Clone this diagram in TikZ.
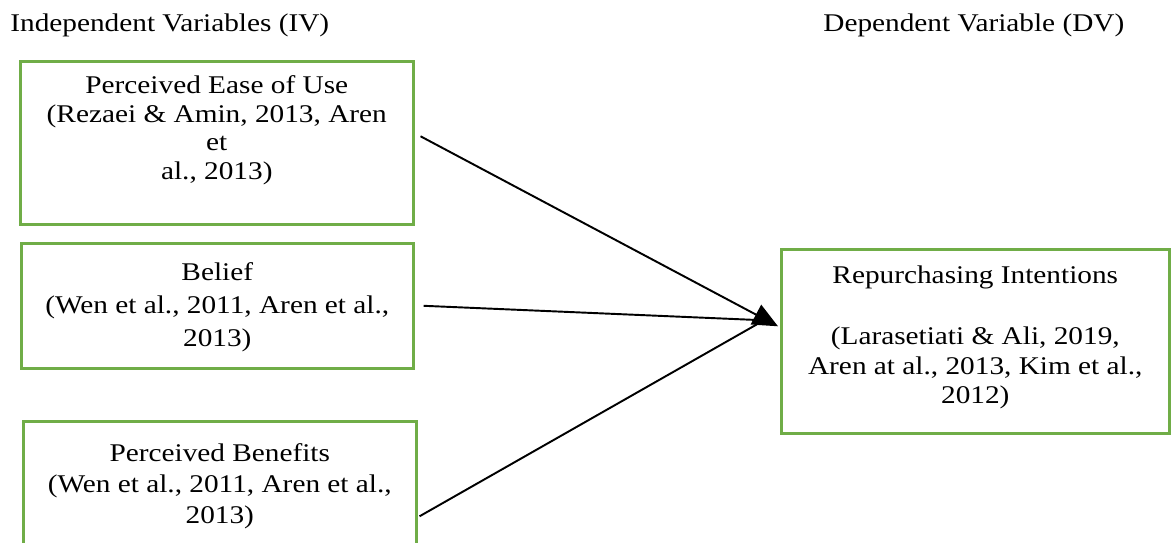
\documentclass[tikz,border=0pt]{standalone}
\usepackage{fontspec}
\setmainfont{Liberation Serif}[FakeStretch=1.15]
\usepackage{xcolor}
\usetikzlibrary{arrows.meta, positioning}
\definecolor{boxgreen}{HTML}{70AD47}
% text block of a box: width, height, first baseline, line skip, lines
\newcommand{\celltext}[5]{\parbox[t][#2][t]{#1}{\fontsize{14.5pt}{#4}\selectfont\centering\rule{0pt}{#3}#5}}

\begin{document}
\begin{tikzpicture}[x=0.02cm, y=-0.02cm,
  varbox/.style={draw=boxgreen, line width=1.5pt, inner sep=0pt, anchor=north west},
  heading/.style={font=\fontsize{14.5pt}{16.4pt}\selectfont, inner sep=0pt, anchor=base west},
  arr/.style={line width=1.1pt},
]
  \useasboundingbox (0,0) rectangle (1171,543);
  \clip (0,0) rectangle (1171,543);

  \node[heading] (ivhead) at (10,32) {Independent Variables (IV)};
  \node[heading] (dvhead) at (823,32) {Dependent Variable (DV)};

  \node[varbox] (ease) at (19,60) {\celltext{7.86cm}{3.26cm}{0.64cm}{16.4pt}{Perceived Ease of Use\\(Rezaei \& Amin, 2013, Aren\\et\\al., 2013)}};
  \node[varbox] (belief) at (20,242) {\celltext{7.84cm}{2.5cm}{0.74cm}{18.9pt}{Belief\\(Wen et al., 2011, Aren et al.,\\2013)}};
  \node[varbox] (benefit) at (22,420) {\celltext{7.86cm}{3.8cm}{0.80cm}{17.6pt}{Perceived Benefits\\(Wen et al., 2011, Aren et al.,\\2013)}};
  \node[varbox] (repurchase) at (780,248) {\celltext{7.76cm}{3.68cm}{0.68cm}{17pt}{Repurchasing Intentions\\[0.62cm](Larasetiati \& Ali, 2019,\\Aren at al., 2013, Kim et al.,\\2012)}};

  \coordinate (tip) at ([shift={(-2,-15)}]repurchase.west);
  \coordinate (joint) at ([shift={(-16,-21)}]repurchase.west);

  \draw[arr, -{Triangle[length=0.5cm, width=0.44cm]}] ([shift={(6,-6.5)}]ease.east) -- (tip);
  \draw[arr] ([shift={(9,0)}]belief.east) -- (joint);
  \draw[arr] ([shift={(2,0)}]benefit.east) -- (joint);
\end{tikzpicture}
\end{document}
